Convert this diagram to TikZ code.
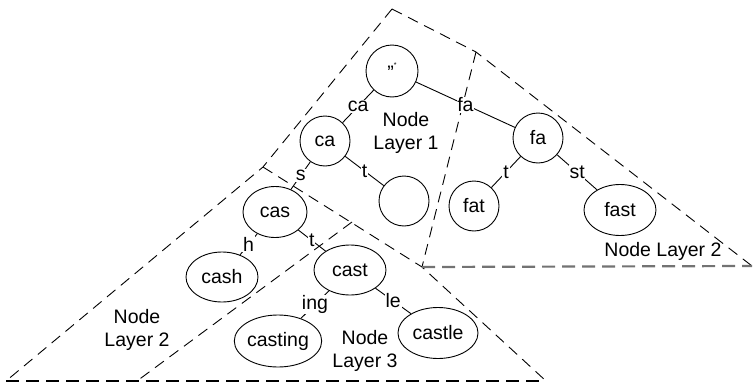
\documentclass[tikz,border=0pt]{standalone}
\usepackage{fontspec}
\setmainfont{Liberation Sans}
\usetikzlibrary{shapes.geometric}
\begin{document}
\begin{tikzpicture}[x=1pt,y=-1pt,
  every node/.style={font=\fontsize{19.5}{23.5}\selectfont},
  circ/.style={draw, circle, line width=0.9pt, minimum size=#1, inner sep=0pt},
  ell/.style 2 args={draw, ellipse, line width=0.9pt, minimum width=#1, minimum height=#2, inner sep=0pt},
  link/.style={line width=0.9pt},
  elab/.style={fill=white, inner sep=0.8pt},
  zone/.style={dash pattern=on 11pt off 7pt, line width=0.9pt},
  zonebase/.style={dash pattern=on 13pt off 7pt, line width=2.2pt},
  ztext/.style={align=center}
]
\useasboundingbox (0,0) rectangle (753,383);

% corner points of the dashed zones
\coordinate (A) at (392,9);
\coordinate (B) at (476,52);
\coordinate (C) at (752,266);
\coordinate (D) at (422,267);
\coordinate (L) at (263,167);
\coordinate (F) at (6,381);
\coordinate (R) at (546,381);
\coordinate (T) at (352,222);
\coordinate (T2) at (137,381);

% dashed zones
\draw[zone] (A) -- (B) -- (C);
\draw[zone] (B) -- (D);
\draw[zone] (A) -- (L) -- (F);
\draw[zone] (L) -- (D) -- (R);
\draw[zone] (T) -- (T2);
\draw[zonebase, black!55] (D) -- (C);
\draw[zonebase] (F) -- (R);

% nodes
\node[circ=52] (root) at (392,71) {\raisebox{-0.3em}{"}\raisebox{0.35em}{\scriptsize *}};
\node[circ=50] (ca) at (325,141) {ca};
\node[circ=50] (empty) at (404,201) {};
\node[circ=50] (fa) at (538,138) {fa};
\node[circ=50] (fat) at (474,206) {fat};
\node[ell={72}{51}] (fast) at (620,210) {fast};
\node[ell={64}{51}] (cas) at (275,212) {cas};
\node[ell={72}{50}] (cash) at (222,277) {cash};
\node[ell={72}{50}] (cast) at (350,270) {cast};
\node[ell={86}{52}] (casting) at (278,341) {casting};
\node[ell={80}{51}] (castle) at (438,333) {castle};

% connectors
\draw[link] (root) -- node[elab]{ca} (ca);
\draw[link] (root) -- node[elab]{fa} (fa);
\draw[link] (ca) -- node[elab]{s} (cas);
\draw[link] (ca) -- node[elab]{t} (empty);
\draw[link] (fa) -- node[elab]{t} (fat);
\draw[link] (fa) -- node[elab]{st} (fast);
\draw[link] (cas) -- node[elab]{h} (cash);
\draw[link] (cas) -- node[elab]{t} (cast);
\draw[link] (cast) -- node[elab]{ing} (casting);
\draw[link] (cast) -- node[elab]{le} (castle);

% zone labels
\node[ztext] (z1) at (406,133) {Node\\Layer 1};
\node[ztext] (z2r) at (663,251) {Node Layer 2};
\node[ztext] (z2l) at (137,330) {Node\\Layer 2};
\node[ztext] (z3) at (365,351) {Node\\Layer 3};
\end{tikzpicture}
\end{document}
